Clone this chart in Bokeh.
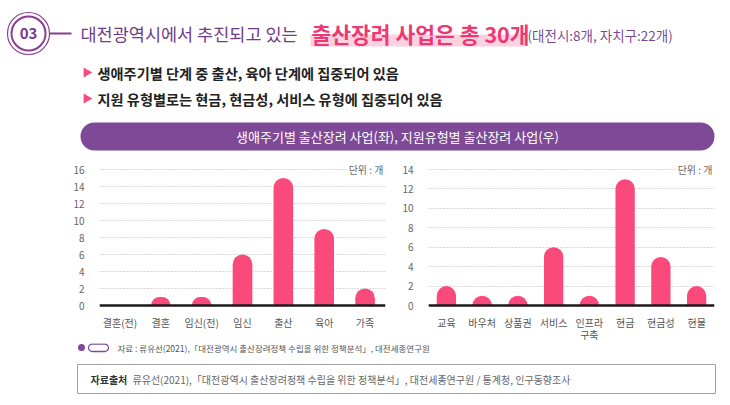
import math
from bokeh.plotting import figure
from bokeh.models import Range1d, FactorRange, Label, Span, FixedTicker, ColumnDataSource
from bokeh.layouts import column, row
from bokeh.embed import file_html
from bokeh.resources import INLINE
from bokeh.core.properties import value

FONT = "Noto Sans CJK KR"

# ---------------- data ----------------
life_stages = ["결혼(전)", "결혼", "임신(전)", "임신", "출산", "육아", "가족"]
life_counts = [0, 1, 1, 6, 15, 9, 2]
life_ticks = [0, 2, 4, 6, 8, 10, 12, 14, 16]

support_types = ["교육", "바우처", "상품권", "서비스", "인프라\n구축", "현금", "현금성", "현물"]
support_counts = [2, 1, 1, 6, 1, 13, 5, 2]
support_ticks = [0, 2, 4, 6, 8, 10, 12, 14]

section_no = "03"
title_main = "대전광역시에서 추진되고 있는"
title_highlight = "출산장려 사업은 총 30개"
title_note = "(대전시:8개, 자치구:22개)"
bullets = ["생애주기별 단계 중 출산, 육아 단계에 집중되어 있음",
           "지원 유형별로는  현금, 현금성, 서비스 유형에 집중되어 있음"]
banner = "생애주기별 출산장려 사업(좌), 지원유형별 출산장려 사업(우)"
unit_label = "단위 : 개"
source_note = "자료 : 류유선(2021),「대전광역시 출산장려정책 수립을 위한 정책분석」, 대전세종연구원"
box_bold = "자료출처"
box_text = "류유선(2021),「대전광역시 출산장려정책 수립을 위한 정책분석」, 대전세종연구원 / 통계청, 인구동향조사"

# ---------------- styles ----------------
PURPLE = "#7e4a97"
RING = "#8b3d93"
TITLE = "#6f3c88"
PINK = "#ec3873"
HILITE = "#fcd2e0"
BAR = "#fa4a7b"
W = 730


def blank(w, h):
    p = figure(width=w, height=h, x_range=Range1d(0, w), y_range=Range1d(h, 0),
               output_backend="svg", toolbar_location=None, min_border=0,
               x_axis_location=None, y_axis_location=None)
    p.grid.visible = False
    p.outline_line_color = None
    return p


# ---------------- header (page y 0..155) ----------------
hd = blank(W, 155)
hd.circle(x=[28], y=[33], radius=21, fill_color=None, line_color=RING, line_width=1.2)
hd.circle(x=[28], y=[33], radius=17, fill_color=None, line_color=RING, line_width=2)
hd.text(x=[28], y=[33], text=[section_no], text_align="center", text_baseline="middle",
        text_font=value(FONT), text_font_style="bold", text_font_size="15px", text_color="#7b3590")
hd.segment(x0=[49], y0=[33], x1=[71], y1=[33], line_color=RING, line_width=2)

hd.quad(left=[310], right=[525], top=[34], bottom=[46], fill_color=HILITE, line_color=None)
hd.text(x=[80], y=[33], text=[title_main], text_align="left", text_baseline="middle",
        text_font=value(FONT), text_font_size="17.5px", text_color=TITLE)
hd.text(x=[311], y=[33], text=[title_highlight], text_align="left", text_baseline="middle",
        text_font=value(FONT), text_font_style="bold", text_font_size="21.5px", text_color=PINK)
hd.text(x=[527], y=[34], text=[title_note], text_align="left", text_baseline="middle",
        text_font=value(FONT), text_font_size="13.5px", text_color=TITLE, text_alpha=0.95)

by = [72, 98]
hd.scatter(x=[86, 86], y=by, marker="triangle", size=10, angle=-math.pi / 2,
           fill_color=BAR, line_color=None)
hd.text(x=[97, 97], y=by, text=bullets, text_align="left", text_baseline="middle",
        text_font=value(FONT), text_font_style="bold", text_font_size="14.2px", text_color="#222222")

hd.quad(left=[80], right=[714], top=[122], bottom=[150], fill_color=PURPLE, line_color=None,
        border_radius=14)
hd.text(x=[397], y=[136], text=[banner], text_align="center", text_baseline="middle",
        text_font=value(FONT), text_font_size="13px", text_color="white")


# ---------------- charts (page y 155..343) ----------------
# frame runs from 5 px below the chart top to the chart bottom; value 0 sits
# 38 px above the bottom and the top tick 136 px above value 0.
def chart(cats, vals, ticks, w, left, right, bar_w):
    top = ticks[-1]
    per_px = top / 136.0
    p = figure(width=w, height=188, x_range=FactorRange(*cats, range_padding=0),
               y_range=Range1d(-38 * per_px, top + 9 * per_px),
               output_backend="svg", toolbar_location=None,
               min_border_left=left, min_border_right=right, min_border_top=5,
               min_border_bottom=0, x_axis_location=None)
    p.outline_line_color = None
    p.xgrid.visible = False
    p.ygrid.ticker = FixedTicker(ticks=ticks)
    p.ygrid.grid_line_color = "#b5b5b5"
    p.ygrid.grid_line_dash = "1 2"
    p.ygrid.grid_line_width = 1

    p.yaxis.ticker = FixedTicker(ticks=ticks)
    p.yaxis.axis_line_color = None
    p.yaxis.major_tick_line_color = None
    p.yaxis.minor_tick_line_color = None
    p.yaxis.major_label_standoff = 9
    p.yaxis.major_label_text_font = FONT
    p.yaxis.major_label_text_font_size = "10px"
    p.yaxis.major_label_text_color = "#666666"

    src = ColumnDataSource(dict(cat=cats, val=vals, base=[0] * len(cats)))
    p.vbar(x="cat", top="val", width=bar_w, source=src, fill_color=BAR, line_color=None,
           border_radius=(10, 10, 0, 0))
    p.add_layout(Span(location=0, dimension="width", line_color="#1a1a1a", line_width=2.5))
    p.text(x="cat", y="base", text="cat", source=src, y_offset=9,
           text_align="center", text_baseline="top", text_font=value(FONT),
           text_font_size="10px", text_color="#555555", text_line_height=0.85)
    p.add_layout(Label(x=len(cats), y=top, text=unit_label,
                       text_align="right", text_baseline="middle", text_font=FONT,
                       text_font_size="10px", text_color="#666666",
                       background_fill_color="white", padding=2))
    return p


left_chart = chart(life_stages, life_counts, life_ticks, 390, 99, 5, 0.48)
right_chart = chart(support_types, support_counts, support_ticks, 340, 38, 16, 0.54)

# ---------------- footer (page y 343..405) ----------------
ft = blank(W, 62)
ft.scatter(x=[81], y=[4], marker="circle", size=7, fill_color=PURPLE, line_color=None)
ft.quad(left=[88], right=[108], top=[0.5], bottom=[8], fill_color=None, line_color=PURPLE,
        line_width=1.3, border_radius=4)
ft.text(x=[117], y=[4], text=[source_note], text_align="left", text_baseline="middle",
        text_font=value(FONT), text_font_size="8.5px", text_color="#555555")
ft.quad(left=[77], right=[715], top=[21], bottom=[50], fill_color=None, line_color="#a0a0a0",
        line_width=1)
ft.text(x=[90], y=[36], text=[box_bold], text_align="left", text_baseline="middle",
        text_font=value(FONT), text_font_style="bold", text_font_size="10px", text_color="#333333")
ft.text(x=[132], y=[36], text=[box_text], text_align="left", text_baseline="middle",
        text_font=value(FONT), text_font_size="10px", text_color="#666666")

layout = column(hd, row(left_chart, right_chart), ft)
open("out.html", "w").write(file_html(layout, INLINE))
